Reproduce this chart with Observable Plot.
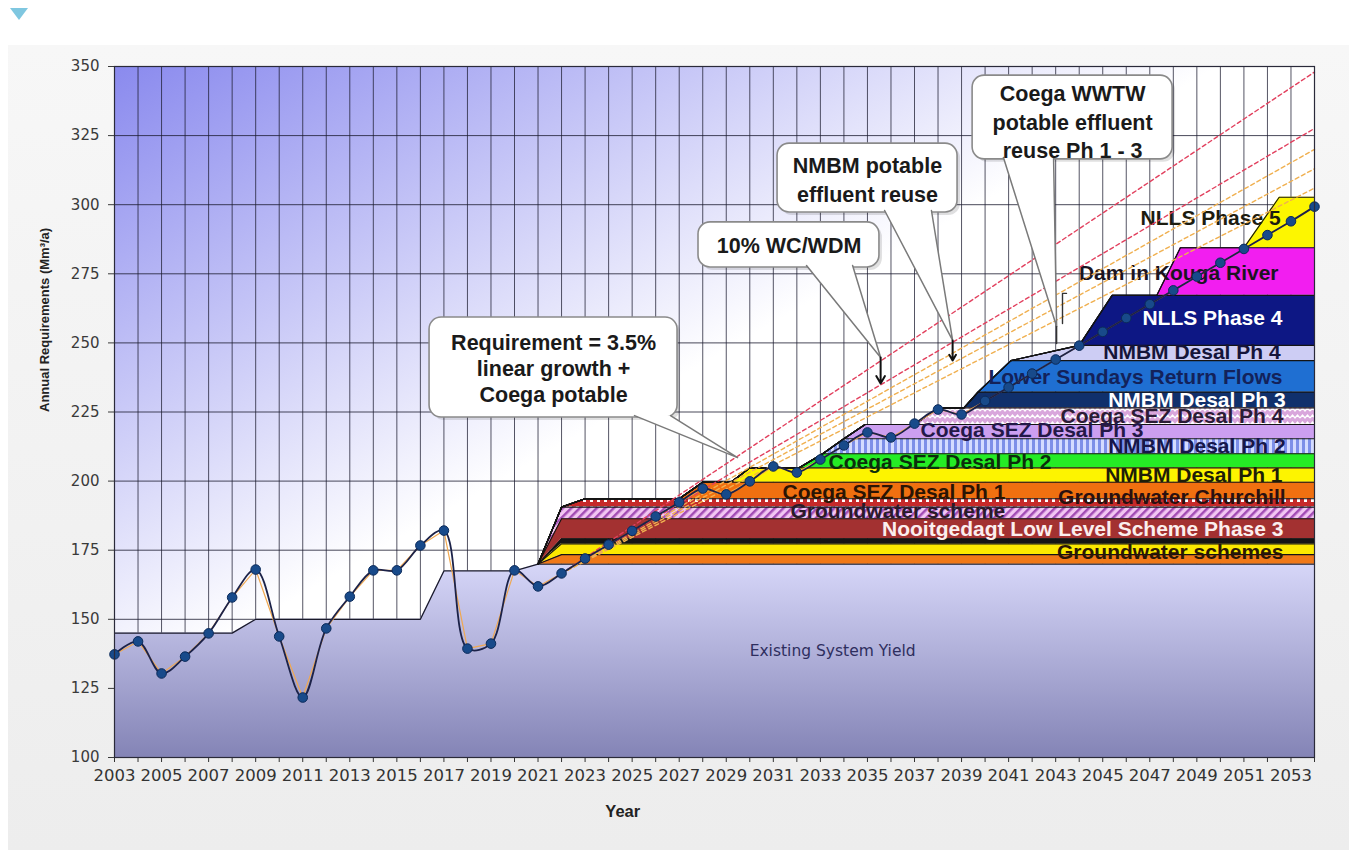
<!DOCTYPE html>
<html><head><meta charset="utf-8">
<script src="https://cdn.jsdelivr.net/npm/d3@7"></script>
<script src="https://cdn.jsdelivr.net/npm/@observablehq/plot@0.6"></script>
<style>
html,body{margin:0;padding:0;background:#fff;width:1356px;height:850px;overflow:hidden}
#panel{position:absolute;left:8px;top:45px;width:1341px;height:805px;background:linear-gradient(180deg,#f7f7f7,#ededed);}
#tri{position:absolute;left:10px;top:8px;width:0;height:0;border-left:9px solid transparent;border-right:9px solid transparent;border-top:12px solid #7fc7e0;}
#chart{position:absolute;left:0;top:0}
</style></head>
<body>
<div id="panel"></div><div id="tri"></div>
<svg width="0" height="0" style="position:absolute">
<defs>
 <linearGradient id="bgGrad" x1="0" y1="0" x2="1" y2="1">
  <stop offset="0" stop-color="#8a8aee"/>
  <stop offset="0.25" stop-color="#c9c9f7"/>
  <stop offset="0.46" stop-color="#ffffff"/>
  <stop offset="1" stop-color="#ffffff"/>
 </linearGradient>
 <linearGradient id="existGrad" x1="0" y1="0" x2="0" y2="1">
  <stop offset="0" stop-color="#d6d6f8"/>
  <stop offset="1" stop-color="#8484b6"/>
 </linearGradient>
 <pattern id="patHatch" width="6" height="6" patternUnits="userSpaceOnUse" patternTransform="rotate(45)">
  <rect width="6" height="6" fill="#f2c6f2"/>
  <rect width="2.5" height="6" fill="#a24cb4"/>
 </pattern>
 <pattern id="patDots" width="7" height="8" patternUnits="userSpaceOnUse">
  <rect width="7" height="8" fill="#c62a2a"/>
  <rect x="2" y="2" width="3" height="4" fill="#ffffff"/>
 </pattern>
 <pattern id="patStripes" width="6" height="6" patternUnits="userSpaceOnUse">
  <rect width="6" height="6" fill="#d4dbff"/>
  <rect width="3" height="6" fill="#7d8fe8"/>
 </pattern>
 <pattern id="patZig" width="10" height="7" patternUnits="userSpaceOnUse">
  <rect width="10" height="7" fill="#d9a6dc"/>
  <polyline points="0,5 2.5,2 5,5 7.5,2 10,5" fill="none" stroke="#ffffff" stroke-width="1.3"/>
 </pattern>
</defs></svg>
<div id="chart"></div>
<script>
// ---------- DATA ----------
const reqYears = [2003,2004,2005,2006,2007,2008,2009,2010,2011,2012,2013,2014,2015,2016,2017,2018,2019,2020,2021,2022,2023,2024,2025,2026,2027,2028,2029,2030,2031,2032,2033,2034,2035,2036,2037,2038,2039,2040,2041,2042,2043,2044,2045,2046,2047,2048,2049,2050,2051,2052,2053,2054];
const requirement = [137.3,142,130.4,136.5,144.9,157.9,168,143.8,121.7,146.7,158.2,167.7,167.7,176.7,182.1,139.4,141.2,167.7,161.9,166.6,172,177,182,187.2,192.3,197.3,195.2,199.9,205.3,203.1,207.8,212.9,217.6,215.8,220.8,225.9,224.1,229,233.9,238.9,244,249,254,259,264,269,274,279,284,289,294,299.3];

const existingYears = [2003,2008,2009,2016,2017,2020,2021,2054];
const existingYield = [145,145,150,150,167.5,167.5,170,170];

const layerNames = ["Groundwater schemes","","","Nooitgedagt Low Level Scheme Phase 3","Groundwater scheme","Groundwater Churchill","Coega SEZ Desal Ph 1","NMBM Desal Ph 1","Coega SEZ Desal Ph 2","NMBM Desal Ph 2","Coega SEZ Desal Ph 3","Coega SEZ Desal Ph 4","NMBM Desal Ph 3","Lower Sundays Return Flows","NMBM Desal Ph 4","NLLS Phase 4","Dam in Kouga River","NLLS Phase 5"];
const layerLevel = [173.4,177.3,179.1,186.4,190.6,193.6,199.6,204.8,209.9,215.3,220.5,226.5,232.2,243.6,249.1,267.2,284.4,302.7];
const layerStart = [2021,2021,2021,2021,2021,2022,2027,2029.2,2032.1,2033.1,2034,2037,2039.1,2039.7,2041.1,2044,2047.3,2051];
const layerFull  = [2022,2022,2022,2022,2022,2023,2028,2030,2033.1,2034,2034.9,2038,2039.7,2041.1,2044,2045.4,2048.3,2052.5];
const stackEnd = 2054;

const projNames = ["Requirement = 3.5% linear growth + Coega potable","10% WC/WDM","NMBM potable effluent reuse","Coega WWTW reuse Ph 1","Coega WWTW reuse Ph 2"];
const projStartYear = [2022,2022,2022,2022,2022];
const projStartValue = [166.6,166.6,166.6,166.6,166.6];
const projEndYear = [2054,2054,2054,2054,2054];
const projEndValue = [348,327.6,320,313,306];

const yTicks = [100,125,150,175,200,225,250,275,300,325,350];

// ---------- STYLES / LAYOUT ----------
const layerFill = ["#f07818","#fbe800","#151515","#a33131","url(#patHatch)","url(#patDots)","#f07010","#fdf400","#25ec25","url(#patStripes)","#cc9ff0","url(#patZig)","#10306c","#1f6fd2","#cdcdf4","#0d1784","#f21ef0","#fdf600"];
const labelX = [2052.68,null,null,2052.68,2031.73,2052.77,2031.39,2052.64,2033.35,2052.77,2037.26,2052.68,2052.77,2052.64,2052.56,2052.64,2052.47,2052.56];
const labelY = [174.2,null,null,182.5,189.0,194.1,195.9,202.0,206.7,212.5,218.3,223.4,229.2,237.5,246.5,258.8,275.1,295.0];
const labelAnchor = ["end",null,null,"end","start","end","start","end","start","end","start","end","end","end","end","end","end","end"];
const labelColor = ["#2a1606","","","#fbeeee","#2a1a2a","#2a1010","#2a1404","#1e1e08","#0c2e0c","#17174a","#241848","#2c1c36","#ffffff","#13225a","#15153a","#ffffff","#1c1420","#1c1c10"];
const projColor = ["#e2405e","#e2405e","#f0b050","#f0b050","#f0b050"];

const callouts = [
  {text:"Requirement = 3.5%\nlinear growth +\nCoega potable", x1:2016.39, x2:2026.93, y1:223.0, y2:259.2, cx:2021.66, cy:241.2, lh:1.21, b1:2025.10, b2:2026.63, by:223.7, tx:2029.48, ty:208.5},
  {text:"10% WC/WDM", x1:2027.82, x2:2035.51, y1:277.3, y2:293.6, cx:2031.67, cy:285.4, lh:1.2, b1:2032.41, b2:2034.37, by:278.0, tx:2035.56, ty:244.7},
  {text:"NMBM potable\neffluent reuse", x1:2031.18, x2:2038.83, y1:297.2, y2:322.1, cx:2035.0, cy:309.6, lh:1.36, b1:2035.73, b2:2037.72, by:297.9, tx:2038.62, ty:250.9},
  {text:"Coega WWTW\npotable effluent\nreuse Ph 1 - 3", x1:2039.47, x2:2047.97, y1:316.4, y2:346.7, cx:2043.72, cy:330.4, lh:1.32, b1:2040.78, b2:2042.91, by:317.1, tx:2043.04, ty:255.9}
];
const arrows = [
  {x:2035.56, y1:244.7, y2:235.3},
  {x:2038.62, y1:250.9, y2:243.6}
];
const bracketLines = [
  {id:0, x:2043.04, y:255.9},{id:0, x:2043.04, y:249.8},
  {id:1, x:2043.46, y:267.9},{id:1, x:2043.29, y:267.9},{id:1, x:2043.29, y:257.0}
];

// ---------- BUILD TABLES ----------
const reqRows = reqYears.map((x,i)=>({x, y:requirement[i]}));
const existRows = existingYears.map((x,i)=>({x, y:existingYield[i]}));

const xs = Array.from(new Set([2021, stackEnd, ...layerStart, ...layerFull])).sort((a,b)=>a-b);
let prev = xs.map(()=>existingYield[existingYield.length-1]);
const layerRows = [];
layerLevel.forEach((level,i)=>{
  const s = layerStart[i], f = layerFull[i];
  const sv = prev[xs.indexOf(s)];
  const top = xs.map((x,k)=>{
    let v = x <= s ? prev[k] : x >= f ? level : sv + (level - sv) * (x - s) / (f - s);
    return Math.max(v, prev[k]);
  });
  xs.forEach((x,k)=>layerRows.push({layer:i, x, y1:prev[k], y2:top[k]}));
  prev = top;
});

const projRows = [];
projNames.forEach((n,i)=>{
  projRows.push({id:i, x:projStartYear[i], y:projStartValue[i]});
  projRows.push({id:i, x:projEndYear[i], y:projEndValue[i]});
});

const labels = layerNames.map((name,i)=>({name, x:labelX[i], y:labelY[i], anchor:labelAnchor[i], color:labelColor[i]})).filter(d=>d.name);

const pointerRows = [];
callouts.forEach((c,i)=>{
  pointerRows.push({id:i, x:c.b1, y:c.by},{id:i, x:c.tx, y:c.ty},{id:i, x:c.b2, y:c.by});
});

// ---------- MARKS ----------
const marks = [];
marks.push(Plot.frame({fill:"url(#bgGrad)"}));
marks.push(Plot.gridX({ticks:d3.range(2003,2055), stroke:"#1c1c30", strokeOpacity:0.75, strokeWidth:1}));
marks.push(Plot.gridY({ticks:yTicks, stroke:"#1c1c30", strokeOpacity:0.8, strokeWidth:1}));
marks.push(Plot.areaY(existRows, {x:"x", y1:()=>yTicks[0], y2:"y", fill:"url(#existGrad)"}));
marks.push(Plot.line(existRows, {x:"x", y:"y", stroke:"#1a1a2a", strokeWidth:1.3}));
layerLevel.forEach((_,i)=>{
  const rows = layerRows.filter(r=>r.layer===i);
  marks.push(Plot.areaY(rows, {x:"x", y1:"y1", y2:"y2", fill:layerFill[i]}));
});
layerLevel.forEach((_,i)=>{
  const rows = layerRows.filter(r=>r.layer===i);
  marks.push(Plot.line(rows, {x:"x", y:"y2", stroke:"#141414", strokeWidth:1.1}));
});
marks.push(Plot.text([0], {x:()=>2033.52, y:()=>138.4, text:()=>"Existing System Yield", fontFamily:"DejaVu Sans", fontSize:15.5, fill:"#2e2e5e"}));
// layer labels
marks.push(Plot.text(labels.filter(d=>d.anchor==="end"), {x:"x", y:"y", text:"name", fill:"color", textAnchor:"end", fontSize:21, fontWeight:"bold", fontFamily:"Liberation Sans, Arial, sans-serif"}));
marks.push(Plot.text(labels.filter(d=>d.anchor==="start"), {x:"x", y:"y", text:"name", fill:"color", textAnchor:"start", fontSize:21, fontWeight:"bold", fontFamily:"Liberation Sans, Arial, sans-serif"}));
// projection dashed lines
marks.push(Plot.line(projRows, {x:"x", y:"y", z:"id", stroke:d=>projColor[d.id], strokeWidth:1.4, strokeDasharray:"4,3"}));
// requirement line
marks.push(Plot.line(reqRows, {x:"x", y:"y", stroke:"#f0a850", strokeWidth:1.2}));
marks.push(Plot.line(reqRows, {x:"x", y:"y", stroke:"#1c2248", strokeWidth:1.8, curve:"catmull-rom"}));
marks.push(Plot.dot(reqRows, {x:"x", y:"y", r:4.8, fill:"#184a8a", stroke:"#0b2a5a", strokeWidth:1}));
// callouts
marks.push(Plot.rect(callouts, {x1:"x1", x2:"x2", y1:"y1", y2:"y2", fill:"#000", fillOpacity:0.12, rx:12, dx:3, dy:3}));
marks.push(Plot.rect(callouts, {x1:"x1", x2:"x2", y1:"y1", y2:"y2", fill:"#ffffff", stroke:"#8a8a8a", strokeWidth:1.6, rx:12}));
marks.push(Plot.line(pointerRows, {x:"x", y:"y", z:"id", fill:"#ffffff", stroke:"#7a7a7a", strokeWidth:1.5, curve:"linear"}));
callouts.forEach(c=>{
  marks.push(Plot.text([c], {x:"cx", y:"cy", text:"text", lineHeight:c.lh, fontSize:21.5, fontWeight:"bold", fill:"#1a1a1a", fontFamily:"Liberation Sans, Arial, sans-serif"}));
});
marks.push(Plot.arrow(arrows, {x:"x", y1:"y1", y2:"y2", stroke:"#111", strokeWidth:2, headLength:8}));
marks.push(Plot.line(bracketLines, {x:"x", y:"y", z:"id", stroke:"#333", strokeWidth:1.4}));
// axes
marks.push(Plot.axisY({ticks:yTicks, tickSize:6, tickPadding:9, fontSize:15, fontFamily:"DejaVu Sans", color:"#3a3a3a", label:null}));
marks.push(Plot.axisX({ticks:d3.range(2003,2055), tickSize:5, tickPadding:7, tickFormat:d=>d%2===1?String(d):"", fontSize:16.5, fontFamily:"DejaVu Sans", color:"#333", label:null}));
marks.push(Plot.frame({stroke:"#2a2a3a", strokeWidth:1.2}));
marks.push(Plot.text([0], {frameAnchor:"left", dx:-70, rotate:-90, text:()=>"Annual Requirements (Mm³/a)", fontSize:13, fontWeight:"bold", fill:"#222", fontFamily:"Liberation Sans, Arial, sans-serif"}));
marks.push(Plot.text([0], {x:()=>2024.6, frameAnchor:"bottom", dy:59, text:()=>"Year", fontSize:16.5, fontWeight:"bold", fill:"#222", fontFamily:"Liberation Sans, Arial, sans-serif"}));

const chart = Plot.plot({
  width:1356, height:850,
  marginLeft:114, marginRight:42, marginTop:66, marginBottom:93,
  x:{domain:[2003,2054]},
  y:{domain:[100,350]},
  color:{type:"identity"},
  style:{background:"transparent", fontFamily:"Liberation Sans, Arial, sans-serif", overflow:"visible"},
  marks
});
document.getElementById("chart").appendChild(chart);
</script>
</body></html>
